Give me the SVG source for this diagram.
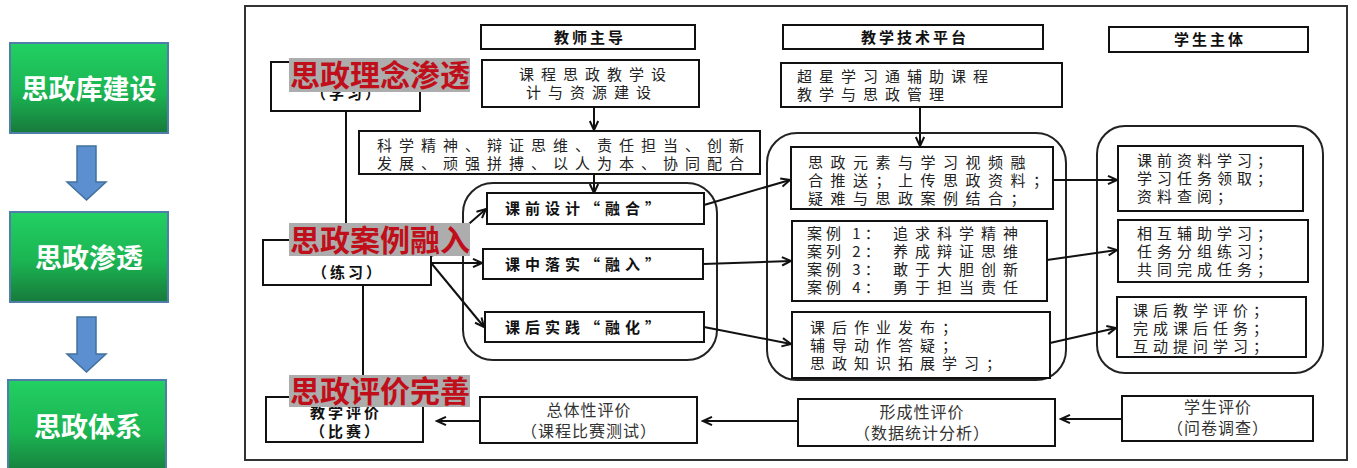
<svg xmlns="http://www.w3.org/2000/svg" width="1357" height="468" viewBox="0 0 1357 468">
<style>
.bg{fill:#fff}
.box{fill:#fff;stroke:#111;stroke-width:2}
.round{fill:none;stroke:#222;stroke-width:2}
.frame{fill:none;stroke:#333;stroke-width:2}
.green{fill:url(#gg);stroke:#4f7fa8;stroke-width:2}
.gt{font-family:'Noto Sans CJK SC',sans-serif;font-size:27px;font-weight:bold;fill:#fff;text-anchor:middle}
.t{font-family:'Noto Sans CJK SC',sans-serif;font-size:15px;fill:#222;letter-spacing:7px}
.tr{font-family:'Noto Sans CJK SC',sans-serif;font-size:15px;fill:#222;letter-spacing:5px}
.hb{font-family:'Noto Sans CJK SC',sans-serif;font-size:15px;font-weight:bold;fill:#111;letter-spacing:3px;text-anchor:middle}
.ib{font-family:'Noto Sans CJK SC',sans-serif;font-size:15px;font-weight:bold;fill:#111;letter-spacing:5px}
.lb{font-family:'Noto Sans CJK SC',sans-serif;font-size:15px;font-weight:bold;fill:#111;letter-spacing:3px;text-anchor:middle}
.ev{font-family:'Noto Sans CJK SC',sans-serif;font-size:16px;fill:#333;letter-spacing:1px;text-anchor:middle}
.ovr{fill:#adadad}
.ot{font-family:'Noto Sans CJK SC',sans-serif;font-size:30px;font-weight:bold;fill:#c00f1a}
.conn line{stroke:#111;stroke-width:2}
.conn .ar{marker-end:url(#ah)}
.blue{fill:#5b8fd0;stroke:#41719c;stroke-width:1.5}
</style>
<defs>
<linearGradient id="gg" x1="0" y1="0" x2="0" y2="1">
<stop offset="0" stop-color="#22d063"/>
<stop offset="0.55" stop-color="#1bb452"/>
<stop offset="1" stop-color="#177a3b"/>
</linearGradient>
<marker id="ah" markerWidth="12" markerHeight="12" refX="10" refY="5" orient="auto" markerUnits="userSpaceOnUse" viewBox="0 0 12 10">
<path d="M1,0.8 L10,5 L1,9.2" fill="none" stroke="#111" stroke-width="2"/>
</marker>
</defs>
<rect class="bg" x="0" y="0" width="1357" height="468"/>

<g id="left-steps">
<g id="step1"><rect class="green" x="10" y="43" width="158" height="90"/><text class="gt" x="89" y="99">思政库建设</text></g>
<g id="step2"><rect class="green" x="10" y="212" width="158" height="90"/><text class="gt" x="89" y="268">思政渗透</text></g>
<g id="step3"><rect class="green" x="8" y="380" width="158" height="96"/><text class="gt" x="88" y="437">思政体系</text></g>
</g>

<rect class="frame" x="245" y="6" width="1102" height="454"/>

<g id="groups">
<rect id="grp-left" class="round" x="463" y="183" width="254" height="177" rx="30"/>
<rect id="grp-mid" class="round" x="767" y="133" width="299" height="247" rx="30"/>
<rect id="grp-right" class="round" x="1097" y="126" width="226" height="247" rx="28"/>
</g>

<g id="connectors" class="conn">
<polygon class="blue" points="77,146 96,146 96,182 106,182 86.5,200 67,182 77,182"/>
<polygon class="blue" points="77,317 96,317 96,354 106,354 86.5,372 67,354 77,354"/>
<line class="ar" x1="594" y1="107" x2="594" y2="130"/>
<line class="ar" x1="594" y1="174" x2="594" y2="193"/>
<line class="ar" x1="920" y1="107" x2="920" y2="146"/>
<line x1="346" y1="111" x2="346" y2="240"/>
<line x1="363" y1="285" x2="363" y2="397"/>
<line class="ar" x1="432" y1="256" x2="486" y2="209"/>
<line class="ar" x1="432" y1="263" x2="482" y2="263"/>
<line class="ar" x1="432" y1="264" x2="484" y2="327"/>
<line class="ar" x1="704" y1="205" x2="790" y2="180"/>
<line class="ar" x1="703" y1="264" x2="791" y2="261"/>
<line class="ar" x1="704" y1="327" x2="791" y2="344"/>
<line class="ar" x1="1053" y1="180" x2="1117" y2="180"/>
<line class="ar" x1="1047" y1="260" x2="1117" y2="250"/>
<line class="ar" x1="1050" y1="343" x2="1116" y2="328"/>
<line class="ar" x1="1122" y1="419" x2="1061" y2="419"/>
<line class="ar" x1="798" y1="421" x2="703" y2="421"/>
<line class="ar" x1="480" y1="421" x2="437" y2="421"/>
</g>

<g id="hdr-teacher"><rect class="box" x="481" y="25" width="214" height="24"/><text class="hb" x="590" y="43">教师主导</text></g>
<g id="hdr-platform"><rect class="box" x="783" y="25" width="260" height="24"/><text class="hb" x="915" y="43">教学技术平台</text></g>
<g id="hdr-student"><rect class="box" x="1109" y="27" width="199" height="25"/><text class="hb" x="1210" y="45">学生主体</text></g>

<g id="design"><rect class="box" x="482" y="60" width="217" height="47"/>
<text class="t" x="519" y="80">课程思政教学设</text><text class="t" x="526" y="98">计与资源建设</text></g>

<g id="values"><rect class="box" x="359" y="131" width="401" height="43"/>
<text class="t" x="377" y="151">科学精神、辩证思维、责任担当、创新</text>
<text class="t" x="377" y="169">发展、顽强拼搏、以人为本、协同配合</text></g>

<g id="chaoxing"><rect class="box" x="781" y="63" width="281" height="44"/>
<text class="t" x="797" y="82">超星学习通辅助课程</text><text class="t" x="797" y="100">教学与思政管理</text></g>

<g id="pre-design"><rect class="box" x="487" y="193" width="217" height="31"/><text class="ib" x="505" y="214">课前设计“融合”</text></g>
<g id="in-class"><rect class="box" x="483" y="249" width="220" height="30"/><text class="ib" x="505" y="270">课中落实“融入”</text></g>
<g id="after-class"><rect class="box" x="485" y="312" width="219" height="30"/><text class="ib" x="505" y="333">课后实践“融化”</text></g>

<g id="mid1"><rect class="box" x="791" y="147" width="262" height="62"/>
<text class="t" style="letter-spacing:7.5px" x="808" y="168">思政元素与学习视频融</text>
<text class="t" style="letter-spacing:7.5px" x="808" y="186">合推送；上传思政资料；</text>
<text class="t" style="letter-spacing:7.5px" x="808" y="204">疑难与思政案例结合；</text></g>

<g id="mid2"><rect class="box" x="792" y="221" width="255" height="80"/>
<text class="t" style="letter-spacing:4px" x="807" y="239">案例 1：</text><text class="t" x="893" y="239">追求科学精神</text>
<text class="t" style="letter-spacing:4px" x="807" y="257">案列 2：</text><text class="t" x="893" y="257">养成辩证思维</text>
<text class="t" style="letter-spacing:4px" x="807" y="275">案例 3：</text><text class="t" x="893" y="275">敢于大胆创新</text>
<text class="t" style="letter-spacing:4px" x="807" y="293">案例 4：</text><text class="t" x="893" y="293">勇于担当责任</text></g>

<g id="mid3"><rect class="box" x="792" y="312" width="258" height="66"/>
<text class="t" x="810" y="333">课后作业发布；</text>
<text class="t" x="810" y="351">辅导动作答疑；</text>
<text class="t" x="810" y="369">思政知识拓展学习；</text></g>

<g id="right1"><rect class="box" x="1118" y="146" width="185" height="65"/>
<text class="tr" x="1137" y="166">课前资料学习；</text>
<text class="tr" x="1137" y="184">学习任务领取；</text>
<text class="tr" x="1137" y="202">资料查阅；</text></g>

<g id="right2"><rect class="box" x="1118" y="220" width="190" height="62"/>
<text class="tr" x="1137" y="239">相互辅助学习；</text>
<text class="tr" x="1137" y="257">任务分组练习；</text>
<text class="tr" x="1137" y="275">共同完成任务；</text></g>

<g id="right3"><rect class="box" x="1117" y="297" width="189" height="60"/>
<text class="tr" x="1133" y="316">课后教学评价；</text>
<text class="tr" x="1133" y="334">完成课后任务；</text>
<text class="tr" x="1133" y="352">互动提问学习；</text></g>

<g id="study"><rect class="box" x="271" y="62" width="149" height="49"/><text class="lb" x="347" y="99">（学习）</text></g>
<g id="practice"><rect class="box" x="263" y="240" width="168" height="45"/><text class="lb" x="348" y="278">（练习）</text></g>
<g id="contest"><rect class="box" x="266" y="397" width="157" height="45"/>
<text class="lb" x="346" y="418">教学评价</text><text class="lb" x="346" y="437">（比赛）</text></g>

<g id="eval-total"><rect class="box" x="480" y="397" width="217" height="46"/>
<text class="ev" x="589" y="416">总体性评价</text><text class="ev" x="589" y="437">（课程比赛测试）</text></g>
<g id="eval-form"><rect class="box" x="798" y="399" width="257" height="47"/>
<text class="ev" x="922" y="418">形成性评价</text><text class="ev" x="922" y="439">（数据统计分析）</text></g>
<g id="eval-student"><rect class="box" x="1122" y="396" width="191" height="45"/>
<text class="ev" x="1218" y="413">学生评价</text><text class="ev" x="1218" y="434">（问卷调查）</text></g>

<g id="label1"><rect class="ovr" x="289" y="58" width="181" height="34"/><text class="ot" x="290" y="86">思政理念渗透</text></g>
<g id="label2"><rect class="ovr" x="289" y="223" width="181" height="33"/><text class="ot" x="290" y="251">思政案例融入</text></g>
<g id="label3"><rect class="ovr" x="289" y="375" width="181" height="32"/><text class="ot" x="290" y="402">思政评价完善</text></g>
</svg>
